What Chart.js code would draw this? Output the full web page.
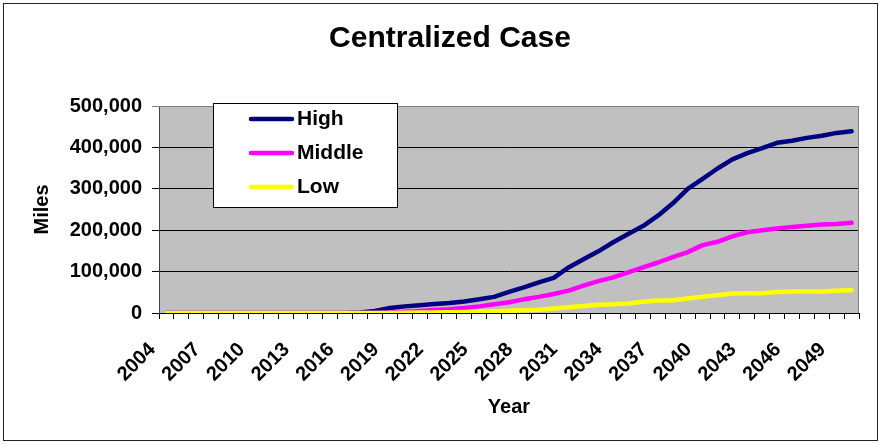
<!DOCTYPE html>
<html>
<head>
<meta charset="utf-8">
<script src="https://cdn.jsdelivr.net/npm/chart.js@4.4.1/dist/chart.umd.min.js"></script>
<style>
  html, body { margin: 0; padding: 0; background: #ffffff; }
  #wrap { position: relative; width: 882px; height: 444px; }
</style>
</head>
<body>
<div id="wrap"><canvas id="c"></canvas></div>
<script>
const years = ['2004','2005','2006','2007','2008','2009','2010','2011','2012','2013','2014','2015','2016','2017','2018','2019','2020','2021','2022','2023','2024','2025','2026','2027','2028','2029','2030','2031','2032','2033','2034','2035','2036','2037','2038','2039','2040','2041','2042','2043','2044','2045','2046','2047','2048','2049','2050'];

const highMiles = [0,0,0,0,0,0,0,0,0,0,0,0,0,
  1000,5000,12000,16000,19000,22000,24000,28000,33000,39000,
  51000,62000,74000,85000,110000,130000,149000,171000,191000,210000,
  235000,265000,300000,324000,349000,371000,386000,398000,411000,416000,
  423000,428000,435000,439000];

const middleMiles = [0,0,0,0,0,0,0,0,0,0,0,0,0,0,0,
  1000,3000,5000,7000,9000,12000,16000,21000,
  26000,33000,39000,46000,54000,66000,77000,86000,98000,110000,
  122000,135000,147000,164000,172000,185000,195000,200000,204000,208000,
  211000,214000,215000,218000];

const lowMiles = [0,0,0,0,0,0,0,0,0,0,0,0,0,0,0,0,
  500,1000,1500,2000,2500,3500,4500,
  5500,6500,8000,11000,14000,17000,20000,21000,23000,27000,
  30000,31000,35000,39000,43000,47000,48000,48000,51000,52000,
  52000,52000,54000,55000];

const seriesNames = ['High', 'Middle', 'Low'];
const yTickValues = [0, 100000, 200000, 300000, 400000, 500000];

const FONT = "'Liberation Sans', Arial, sans-serif";

const frame = {
  id: 'frame',
  beforeDraw(chart) {
    const ctx = chart.ctx;
    const a = chart.chartArea;
    ctx.save();
    ctx.fillStyle = '#ffffff';
    ctx.fillRect(0, 0, chart.width, chart.height);
    ctx.fillStyle = '#c0c0c0';
    ctx.fillRect(a.left, a.top, a.right - a.left, a.bottom - a.top);
    ctx.strokeStyle = '#222222';
    ctx.lineWidth = 1;
    ctx.strokeRect(3.5, 3.5, 874, 437);
    ctx.restore();
  },
  afterDatasetsDraw(chart) {
    const ctx = chart.ctx;
    const a = chart.chartArea;
    ctx.save();
    ctx.strokeStyle = '#808080';
    ctx.lineWidth = 1;
    ctx.beginPath();
    ctx.moveTo(a.left, a.top + 0.5);
    ctx.lineTo(a.right - 0.5, a.top + 0.5);
    ctx.lineTo(a.right - 0.5, a.bottom);
    ctx.stroke();
    ctx.restore();
  },
  afterDraw(chart) {
    const ctx = chart.ctx;
    ctx.save();
    ctx.fillStyle = '#ffffff';
    ctx.fillRect(213.5, 103.5, 184, 104);
    ctx.strokeStyle = '#000000';
    ctx.lineWidth = 1;
    ctx.strokeRect(213.5, 103.5, 184, 104);
    const rows = [119, 153, 187];
    chart.data.datasets.forEach((ds, i) => {
      const y = rows[i];
      ctx.strokeStyle = ds.borderColor;
      ctx.lineWidth = 4.5;
      ctx.lineCap = 'round';
      ctx.beginPath();
      ctx.moveTo(251, y);
      ctx.lineTo(292, y);
      ctx.stroke();
      ctx.fillStyle = '#000000';
      ctx.font = 'bold 21px ' + FONT;
      ctx.textAlign = 'left';
      ctx.textBaseline = 'middle';
      ctx.fillText(ds.label, 297, y);
    });
    ctx.restore();
  }
};

new Chart(document.getElementById('c'), {
  type: 'line',
  data: {
    labels: years,
    datasets: [
      { label: seriesNames[0], data: highMiles, borderColor: '#000080', order: 2 },
      { label: seriesNames[1], data: middleMiles, borderColor: '#ff00ff', order: 1 },
      { label: seriesNames[2], data: lowMiles, borderColor: '#ffff00', order: 0 }
    ].map(d => Object.assign(d, {
      borderWidth: 4.5, pointRadius: 0, tension: 0, fill: false,
      borderCapStyle: 'round', borderJoinStyle: 'round'
    }))
  },
  options: {
    responsive: true,
    maintainAspectRatio: false,
    animation: false,
    devicePixelRatio: 1,
    layout: { padding: { left: 41, right: 23, top: 0, bottom: 0 } },
    plugins: {
      legend: { display: false },
      tooltip: { enabled: false },
      title: {
        display: true,
        text: 'Centralized Case',
        color: '#000000',
        font: { family: FONT, size: 30, weight: 'bold' },
        padding: { top: 20.4, bottom: 49.6 }
      }
    },
    scales: {
      x: {
        type: 'category',
        offset: true,
        grid: {
          offset: true,
          drawOnChartArea: false,
          drawTicks: true,
          tickLength: 6,
          color: '#000000'
        },
        border: { display: true, color: '#000000', width: 1 },
        ticks: {
          autoSkip: false,
          maxRotation: 45,
          minRotation: 45,
          padding: 19,
          labelOffset: -14,
          color: '#000000',
          font: { family: FONT, size: 20, weight: 'bold' },
          callback: function(value, index) {
            return index % 3 === 0 ? this.getLabelForValue(value) : '';
          }
        },
        title: {
          display: true,
          text: 'Year',
          color: '#000000',
          font: { family: FONT, size: 20, weight: 'bold' },
          padding: { top: 0, bottom: 25 }
        },
        afterFit(scale) {
          scale.height = 131;
          scale.paddingLeft = 0;
          scale.paddingRight = 0;
        }
      },
      y: {
        min: 0,
        max: 500000,
        afterBuildTicks(scale) { scale.ticks = yTickValues.map(v => ({ value: v })); },
        grid: {
          drawTicks: true,
          tickLength: 7,
          color: (c) => (c.tick && c.tick.value === 500000) ? '#808080' : '#000000',
          lineWidth: 1
        },
        border: { display: true, color: '#404040', width: 1 },
        ticks: {
          padding: 10,
          color: '#000000',
          font: { family: FONT, size: 20, weight: 'bold' },
          callback: (v) => Number(v).toLocaleString('en-US')
        },
        title: {
          display: true,
          text: 'Miles',
          color: '#000000',
          font: { family: FONT, size: 20, weight: 'bold' },
          padding: { top: -11, bottom: 0 }
        },
        afterFit(scale) { scale.width = 118; }
      }
    }
  },
  plugins: [frame]
});
</script>
</body>
</html>
